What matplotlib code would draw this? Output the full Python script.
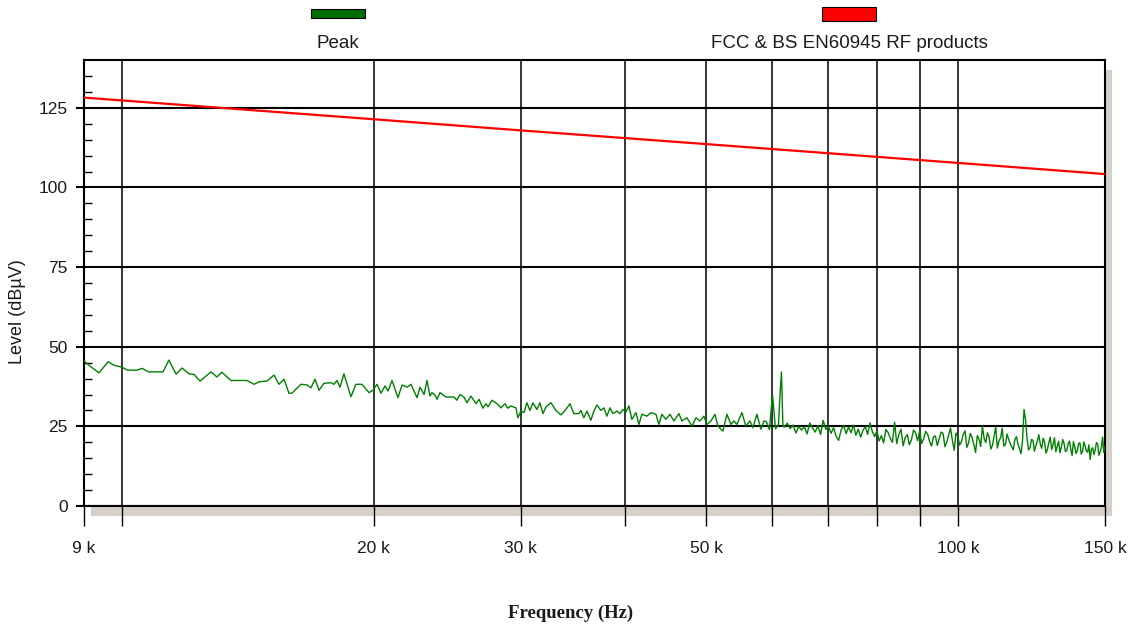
import matplotlib
matplotlib.use("Agg")
import matplotlib.pyplot as plt
from matplotlib.patches import Rectangle
from matplotlib.ticker import FixedLocator, NullLocator

# ---------------- data ----------------
# Limit line: FCC & BS EN60945 RF products (dBuV) vs frequency (kHz)
limit_freq_khz = [9, 10, 20, 30, 50, 100, 150]
limit_level = [128.2, 127.3, 121.4, 117.9, 113.6, 107.7, 104.2]

# Peak trace (kHz, dBuV) in segments
peak_freq_1 = [9.00, 9.15, 9.38, 9.62, 9.77, 9.99, 10.13, 10.41, 10.56, 10.76,
               11.19, 11.37, 11.60, 11.79, 12.02, 12.19, 12.39, 12.77, 12.98,
               13.16, 13.49, 14.10, 14.38]
peak_level_1 = [45.5, 43.9, 41.8, 45.3, 44.2, 43.6, 42.7, 42.6, 43.2, 42.1,
                42.1, 45.8, 41.4, 43.3, 41.5, 41.3, 39.2, 42.1, 40.5,
                42.0, 39.4, 39.4, 38.2]

peak_freq_2 = [14.58, 14.90, 15.19, 15.40, 15.62, 15.83, 15.96, 16.36, 16.64, 16.82,
               17.01, 17.20, 17.43, 17.77, 17.92, 18.07, 18.22, 18.42, 18.78, 19.04,
               19.36, 19.74, 19.95, 20.18, 20.40, 20.63, 20.80, 21.03, 21.38, 21.62,
               21.92, 22.16, 22.53, 22.72, 22.97]
peak_level_2 = [39.0, 39.2, 41.1, 38.2, 39.8, 35.4, 35.4, 38.2, 38.0, 37.1,
                39.8, 36.3, 38.5, 38.7, 38.2, 39.4, 37.3, 41.5, 34.3, 38.2,
                38.2, 35.6, 36.3, 38.2, 35.4, 37.7, 36.1, 39.4, 34.0, 38.0,
                37.3, 38.2, 34.0, 37.3, 35.0]

peak_freq_3 = [23.16, 23.35, 23.48, 23.68, 23.81, 24.00, 24.40, 24.95, 25.15, 25.36,
               25.64, 25.86, 26.14, 26.51, 26.73, 27.02, 27.25, 27.40, 27.70, 28.16,
               28.39, 28.71, 28.94, 29.18, 29.59, 29.75, 30.00, 30.25, 30.50, 30.75,
               31.01, 31.35, 31.61, 31.88, 32.14, 32.59, 33.04, 33.50, 33.96, 34.34,
               34.71, 35.20, 35.39, 35.68, 35.99, 36.38, 36.68]
peak_level_3 = [39.4, 34.5, 35.6, 34.8, 33.5, 35.6, 34.2, 34.2, 33.2, 35.0,
                34.2, 32.4, 34.5, 32.1, 33.5, 30.7, 32.1, 31.1, 33.2, 31.9,
                30.8, 32.1, 30.7, 31.4, 30.8, 27.7, 29.8, 29.3, 32.4, 30.0,
                32.4, 30.3, 32.4, 29.0, 31.1, 32.4, 30.0, 28.6, 30.3, 32.1,
                29.0, 29.0, 30.0, 27.7, 29.8, 26.9, 29.8]

peak_freq_4 = [36.99, 37.40, 37.71, 38.02, 38.34, 38.66, 39.09, 39.41, 39.74, 40.07,
               40.40, 40.73, 41.19, 41.53, 41.87, 42.45, 42.92, 43.52, 43.88, 44.24,
               44.73, 45.23, 45.73, 46.36, 46.75, 47.40, 48.06, 48.59, 49.13, 49.67,
               50.08, 50.64, 51.20, 51.62, 52.34, 52.92, 53.51, 53.95, 54.40, 55.15,
               55.76, 56.38, 56.85, 57.48, 58.12, 58.60]
peak_level_4 = [31.7, 30.0, 30.8, 28.2, 30.8, 29.0, 29.8, 29.0, 30.3, 29.6,
                31.4, 27.2, 29.3, 25.6, 28.8, 28.2, 29.3, 28.8, 25.6, 28.8,
                27.2, 28.8, 26.7, 29.0, 26.7, 27.7, 25.1, 27.7, 26.7, 28.2,
                25.6, 26.7, 28.8, 25.1, 23.5, 28.8, 25.6, 26.7, 25.6, 29.3,
                25.1, 26.7, 24.6, 28.8, 24.1, 26.7]

peak_freq_5 = [59.0, 59.5, 60.0, 60.5, 61.0, 61.25, 61.5, 61.75, 62.0, 62.5,
               63.0, 63.5, 64.0, 64.5, 65.0, 65.5, 66.0, 66.5, 67.0, 67.5,
               68.0, 68.5, 69.0, 69.5, 70.0, 70.5, 71.0, 71.5, 72.0, 72.5,
               73.0, 73.5, 74.0, 74.5, 75.0, 75.5, 76.0, 76.5, 77.0, 77.5,
               78.0, 78.5, 79.0, 79.5, 80.0]
peak_level_5 = [26.5, 24.0, 35.0, 24.2, 25.5, 34.5, 42.1, 25.0, 24.8, 26.0,
                24.3, 25.4, 22.9, 25.0, 23.8, 24.9, 22.6, 26.1, 24.5, 23.2,
                25.2, 22.4, 26.9, 24.0, 25.1, 22.8, 24.6, 21.9, 20.6, 23.9,
                25.3, 22.7, 24.8, 23.0, 25.4, 22.2, 24.1, 21.6, 23.8, 24.9,
                22.5, 26.1, 23.4, 21.8, 23.6]

peak_freq_6 = [81, 82, 83, 84, 85, 86, 87, 88, 89, 90,
               91, 92, 93, 94, 95, 96, 97, 98, 99, 100,
               101, 102, 103, 104, 105, 106, 107, 108, 109, 110,
               111, 112, 113, 114, 115, 116, 117, 118, 119, 120,
               121, 122, 123, 124, 125, 126, 127, 128, 129, 130,
               131, 132, 133, 134, 135, 136, 137, 138, 139, 140,
               141, 142, 143, 144, 145, 146, 147, 148, 149, 150]
peak_level_6 = [22.1, 24.0, 21.3, 26.3, 22.5, 18.9, 22.4, 20.8, 23.0, 23.5,
                21.0, 22.6, 18.8, 22.0, 21.2, 22.8, 20.1, 24.5, 17.5, 21.8,
                20.2, 23.6, 19.8, 21.5, 16.8, 21.0, 25.1, 19.9, 21.6, 19.0,
                24.8, 20.5, 24.4, 19.3, 21.0, 18.6, 20.8, 19.5, 16.4, 30.3,
                21.2, 18.3, 20.6, 19.0, 22.4, 18.1, 20.0, 17.8, 21.6, 19.2,
                17.0, 20.3, 18.5, 19.6, 17.4, 20.4, 15.8, 18.6, 17.5, 19.8,
                17.2, 18.9, 16.9, 14.6, 18.3, 17.6, 19.5, 17.0, 21.6, 18.8]

peak_freq_7 = [80.5, 81.5, 82.5, 83.5, 84.5, 85.5, 86.5, 87.5, 88.5, 89.5,
               90.5, 91.5, 92.5, 93.5, 94.5, 95.5, 96.5, 97.5, 98.5, 99.5,
               100.5, 101.5, 102.5, 103.5, 104.5, 105.5, 106.5, 107.5, 108.5, 109.5,
               110.5, 111.5, 112.5, 113.5, 114.5, 115.5, 116.5, 117.5, 118.5, 119.5,
               120.5, 121.5, 122.5, 123.5, 124.5, 125.5, 126.5, 127.5, 128.5, 129.5,
               130.5, 131.5, 132.5, 133.5, 134.5, 135.5, 136.5, 137.5, 138.5, 139.5,
               140.5, 141.5, 142.5, 143.5, 144.5, 145.5, 146.5, 147.5, 148.5, 149.5]
peak_level_7 = [20.4, 19.8, 23.1, 20.0, 19.6, 24.1, 21.5, 19.2, 23.8, 20.5,
                19.6, 23.4, 20.3, 21.7, 19.0, 23.2, 18.6, 22.3, 20.6, 22.9,
                19.1, 22.5, 18.4, 22.8, 19.3, 22.1, 18.7, 21.2, 23.0, 17.9,
                21.9, 18.2, 21.4, 18.8, 22.6, 19.7, 17.6, 21.8, 18.1, 20.4,
                27.2, 17.6, 20.9, 17.2, 20.5, 19.4, 21.3, 16.6, 19.9, 17.7,
                21.4, 18.8, 16.7, 20.9, 17.1, 19.5, 17.9, 20.2, 16.5, 19.7,
                16.3, 20.1, 17.3, 19.2, 17.8, 16.1, 19.9, 15.9, 18.4, 16.8]

x_tick_values = [9, 10, 20, 30, 40, 50, 60, 70, 80, 90, 100, 150]
x_tick_labels = ["9 k", "", "20 k", "30 k", "", "50 k", "", "", "", "", "100 k", "150 k"]
y_tick_values = [0, 25, 50, 75, 100, 125]
y_minor_values = [5, 10, 15, 20, 30, 35, 40, 45, 55, 60, 65, 70, 80, 85, 90, 95,
                  105, 110, 115, 120, 130, 135]

legend_labels = ["Peak", "FCC & BS EN60945 RF products"]

# ---------------- figure ----------------
W, H = 1133, 632
fig = plt.figure(figsize=(W / 100, H / 100), dpi=100)
fig.patch.set_facecolor("white")

SANS = "Liberation Sans"
SERIF = "Liberation Serif"
TXT = "#1a1a1a"

ax = fig.add_axes([84 / W, 1 - 506 / H, (1105 - 84) / W, (506 - 60) / H])
ax.set_facecolor("white")

# drop shadow behind plot area
fig.patches.append(Rectangle((91 / W, 1 - 516 / H), (1112 - 91) / W, (516 - 70) / H,
                             transform=fig.transFigure, facecolor="#d4d0c8",
                             edgecolor="none", zorder=-1))

pairs = sorted(zip(peak_freq_1 + peak_freq_2 + peak_freq_3 + peak_freq_4 +
                   peak_freq_5 + peak_freq_6 + peak_freq_7,
                   peak_level_1 + peak_level_2 + peak_level_3 + peak_level_4 +
                   peak_level_5 + peak_level_6 + peak_level_7))
peak_freq = [p[0] for p in pairs]
peak_level = [p[1] for p in pairs]

ax.plot(limit_freq_khz, limit_level, color="#ff0000", lw=1.6, zorder=3)
ax.plot(peak_freq, peak_level, color="#008000", lw=1.0, zorder=3)

ax.set_xscale("log")
ax.set_xlim(9, 150)
ax.set_ylim(0, 140)

ax.xaxis.set_major_locator(FixedLocator(x_tick_values))
ax.set_xticklabels(x_tick_labels)
ax.xaxis.set_minor_locator(NullLocator())
ax.yaxis.set_major_locator(FixedLocator(y_tick_values))
ax.yaxis.set_minor_locator(FixedLocator(y_minor_values))

ax.tick_params(axis="x", which="major", direction="out", length=14.4, width=1.0,
               pad=11, labelsize=12.5, colors="black", labelcolor=TXT)
ax.tick_params(axis="y", which="major", direction="out", length=5.8, width=1.5,
               pad=6, labelsize=12.5, colors="black", labelcolor=TXT)
ax.tick_params(axis="y", which="minor", direction="in", length=6, width=1.0, colors="black")
for lab in ax.get_xticklabels() + ax.get_yticklabels():
    lab.set_fontfamily(SANS)

ax.set_axisbelow(True)
ax.xaxis.grid(True, which="major", color="black", lw=1.1)
ax.yaxis.grid(True, which="major", color="black", lw=1.5)
for s in ax.spines.values():
    s.set_color("black")
    s.set_linewidth(1.5)

fig.text(18 / W, 1 - 312 / H, "Level (dB\u00b5V)", rotation=90, ha="center", va="center",
         fontsize=13, family=SANS, color=TXT)
fig.text(571 / W, 1 - 613 / H, "Frequency (Hz)", ha="center", va="center",
         fontsize=13.5, family=SERIF, fontweight="bold", color=TXT)

# legend boxes and labels
fig.patches.append(Rectangle((311 / W, 1 - 18 / H), 54 / W, 9 / H, transform=fig.transFigure,
                             facecolor="#006e00", edgecolor="black", lw=0.8))
fig.text(338 / W, 1 - 44 / H, legend_labels[0], ha="center", va="center",
         fontsize=13.5, family=SANS, color=TXT)
fig.patches.append(Rectangle((822 / W, 1 - 21 / H), 54 / W, 14 / H, transform=fig.transFigure,
                             facecolor="#ff0000", edgecolor="black", lw=0.8))
fig.text(849 / W, 1 - 44 / H, legend_labels[1], ha="center", va="center",
         fontsize=13.5, family=SANS, color=TXT)

fig.savefig("out.png", dpi=100, facecolor="white")
